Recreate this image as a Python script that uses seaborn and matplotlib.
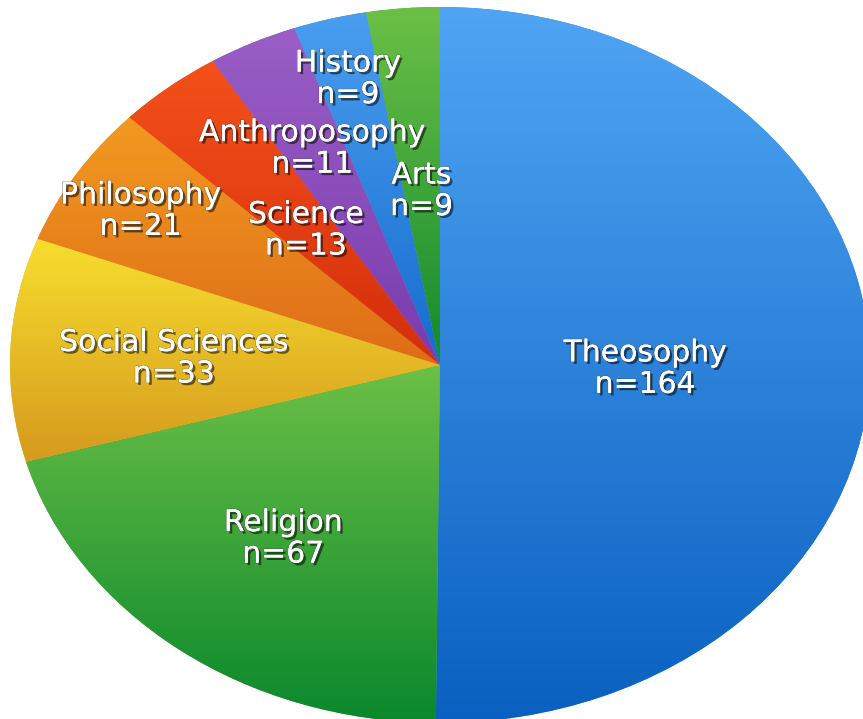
import numpy as np
import pandas as pd
import matplotlib
matplotlib.use("Agg")
import matplotlib.pyplot as plt
import matplotlib.patheffects as pe
import matplotlib.transforms as mtransforms
from matplotlib.colors import LinearSegmentedColormap
import seaborn as sns

# ---- data ----
categories = ["Theosophy", "Religion", "Social Sciences", "Philosophy",
              "Science", "Anthroposophy", "History", "Arts"]
counts = [164, 67, 33, 21, 13, 11, 9, 9]

# ---- style ----
top_colors = ["#4FA5F3", "#6CC046", "#F7DE2E", "#F29A20", "#F4501A", "#9A5EC6", "#4A9EF0", "#6CC046"]
bottom_colors = ["#0A60C0", "#0A882C", "#D69A1E", "#DE6C18", "#D42E0C", "#7A3CAE", "#166CCC", "#128A2E"]
label_radius = [0.477, 0.60, 0.62, 0.823, 0.495, 0.681, 0.835, 0.496]

sns.set_theme(style="white")
plt.rcParams["font.family"] = ["DejaVu Sans"]

df = pd.DataFrame({"category": categories, "n": counts})
base = [sns.blend_palette([t, b], 3)[1] for t, b in zip(top_colors, bottom_colors)]

fig = plt.figure(figsize=(8.63, 7.19), dpi=100)
ax = fig.add_axes([0, 0, 1, 1])

wedges, _ = ax.pie(df["n"], colors=base, startangle=90, counterclock=False,
                   radius=1.0, wedgeprops=dict(linewidth=0))

grad = np.linspace(0, 1, 256).reshape(-1, 1)
for w, t, b in zip(wedges, top_colors, bottom_colors):
    ext = w.get_path().get_extents()
    cmap = LinearSegmentedColormap.from_list("g", sns.blend_palette([t, b], 8))
    im = ax.imshow(grad, cmap=cmap, extent=(ext.x0, ext.x1, ext.y0, ext.y1),
                   origin="upper", aspect="auto", interpolation="bilinear", zorder=2)
    im.set_clip_path(w)

shadow = [pe.SimplePatchShadow(offset=(1.8, -1.8), shadow_rgbFace="black", alpha=0.55),
          pe.withStroke(linewidth=1.0, foreground=(0.3, 0.3, 0.3, 0.5)),
          pe.Normal()]
up = ax.transData + mtransforms.ScaledTranslation(0, 0.16, fig.dpi_scale_trans)
down = ax.transData + mtransforms.ScaledTranslation(0, -0.155, fig.dpi_scale_trans)
for w, cat, n, r in zip(wedges, df["category"], df["n"], label_radius):
    ang = np.deg2rad((w.theta1 + w.theta2) / 2)
    x, y = r * np.cos(ang), r * np.sin(ang)
    for txt, tr in ((cat, up), (f"n={n}", down)):
        ax.text(x, y, txt, transform=tr, ha="center", va="center_baseline",
                color="white", fontsize=21.5, zorder=5, path_effects=shadow)

# horizontal stretch of the pie (ellipse) and cropping as in the reference
ax.set_aspect("auto")
ax.set_xlim(-440 / 430, (863 - 440) / 430)
ax.set_ylim((365 - 719) / 358, 365 / 358)
ax.axis("off")

fig.savefig("out.png", dpi=100)
